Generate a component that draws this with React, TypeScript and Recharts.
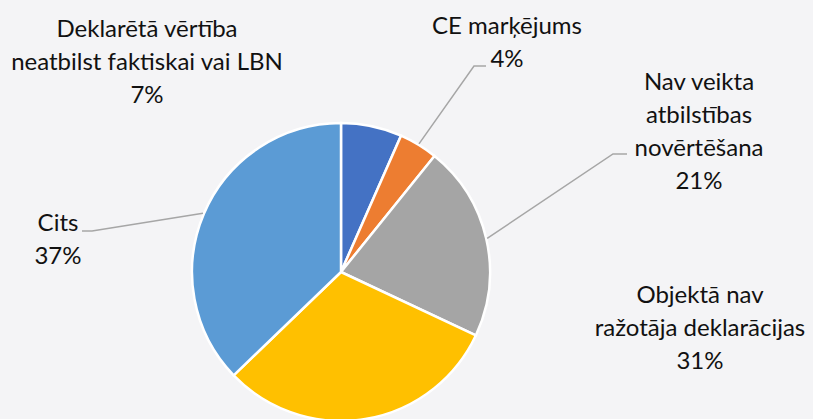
import { Cell, Pie, PieChart } from "recharts";

const CATEGORIES = [
  "Deklarētā vērtība\nneatbilst faktiskai vai LBN",
  "CE marķējums",
  "Nav veikta\natbilstības\nnovērtēšana",
  "Objektā nav\nražotāja deklarācijas",
  "Cits",
];
const VALUES = [6.6, 4.2, 21.2, 30.8, 37.2];
const COLORS = ["#4472C4", "#ED7D31", "#A5A5A5", "#FFC000", "#5B9BD5"];

// label block centre (x, first line centre y) and optional leader elbow
const LABEL_LAYOUT: { x: number; y: number; elbow?: [number, number]; end?: number }[] = [
  { x: 147, y: 29 },
  { x: 507, y: 26, elbow: [474, 66], end: 486 },
  { x: 699, y: 82, elbow: [613, 154], end: 627 },
  { x: 700, y: 295 },
  { x: 58, y: 223, elbow: [92, 231], end: 82 },
];

const LINE_H = 33;
const RAD = Math.PI / 180;

const data = CATEGORIES.map((name, i) => ({ name, value: VALUES[i] }));

function renderLabel(props: any) {
  const { cx, cy, midAngle, outerRadius, index, percent } = props;
  const layout = LABEL_LAYOUT[index];
  const lines = [...CATEGORIES[index].split("\n"), `${Math.round(percent * 100)}%`];
  const sx = cx + (outerRadius + 1) * Math.cos(-midAngle * RAD);
  const sy = cy + (outerRadius + 1) * Math.sin(-midAngle * RAD);
  return (
    <g key={`lbl-${index}`}>
      {layout.elbow && (
        <polyline
          points={`${sx},${sy} ${layout.elbow[0]},${layout.elbow[1]} ${layout.end},${layout.elbow[1]}`}
          fill="none"
          stroke="#A6A6A6"
          strokeWidth={1.5}
        />
      )}
      <text
        textAnchor="middle"
        fontFamily="Lato, 'Open Sans', sans-serif"
        fontSize={24}
        fill="#111111"
      >
        {lines.map((ln, j) => (
          <tspan key={j} x={layout.x} y={layout.y + j * LINE_H + 8}>
            {ln}
          </tspan>
        ))}
      </text>
    </g>
  );
}

export default function App() {
  return (
    <div style={{ position: "fixed", left: 0, top: 0, width: 813, height: 419, background: "#F4F4F6" }}>
      <PieChart width={813} height={419} margin={{ top: 0, right: 0, bottom: 0, left: 0 }}>
        <Pie
          data={data}
          dataKey="value"
          nameKey="name"
          cx={341}
          cy={272}
          outerRadius={149}
          startAngle={90}
          endAngle={-270}
          stroke="#FFFFFF"
          strokeWidth={2.5}
          label={renderLabel}
          labelLine={false}
          isAnimationActive={false}
        >
          {data.map((_, i) => (
            <Cell key={i} fill={COLORS[i]} />
          ))}
        </Pie>
      </PieChart>
    </div>
  );
}
